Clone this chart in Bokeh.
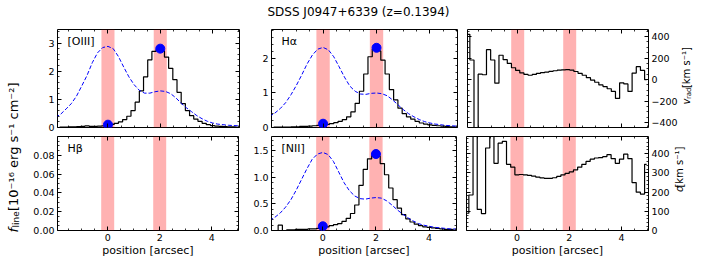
from math import pi
import numpy as np
from bokeh.plotting import figure
from bokeh.models import (Range1d, LinearAxis, FixedTicker, BoxAnnotation, PrintfTickFormatter,
                          CustomLabelingPolicy)
from bokeh.layouts import row, column
from bokeh.embed import file_html
from bokeh.resources import INLINE
from bokeh.core.properties import value

FONT = "DejaVu Sans"

# ---------------- data ----------------
title_text = "SDSS J0947+6339 (z=0.1394)"

pos = [-1.92, -1.76, -1.60, -1.44, -1.28, -1.12, -0.96, -0.80, -0.64, -0.48, -0.32, -0.16,
       0.00, 0.16, 0.32, 0.48, 0.64, 0.80, 0.96, 1.12, 1.28, 1.44, 1.60, 1.76, 1.92, 2.08,
       2.24, 2.40, 2.56, 2.72, 2.88, 3.04, 3.20, 3.36, 3.52, 3.68, 3.84, 4.00, 4.16, 4.32,
       4.48, 4.64, 4.80, 4.96]

oiii_flux = [0.00, 0.01, 0.01, 0.02, 0.02, 0.03, 0.04, 0.06, 0.04, 0.04, 0.05, 0.06,
             0.08, 0.11, 0.15, 0.20, 0.28, 0.40, 0.60, 0.90, 1.30, 1.80, 2.40, 2.70, 2.76, 2.72,
             2.50, 2.10, 1.70, 1.25, 0.85, 0.60, 0.42, 0.30, 0.22, 0.15, 0.10, 0.07, 0.05, 0.04,
             0.03, 0.02, 0.02, 0.01]

ha_flux = [0.00, 0.01, 0.01, 0.01, 0.01, 0.02, 0.02, 0.03, 0.03, 0.04, 0.05, 0.06,
           0.07, 0.09, 0.11, 0.14, 0.18, 0.23, 0.31, 0.45, 0.70, 1.05, 1.55, 2.05, 2.27, 2.22,
           1.95, 1.55, 1.10, 0.80, 0.56, 0.40, 0.31, 0.24, 0.18, 0.13, 0.10, 0.075, 0.06, 0.05,
           0.04, 0.03, 0.02, 0.02]

nii_flux = [0.00, 0.00, 0.10, 0.00, 0.01, 0.01, 0.02, 0.02, 0.02, 0.03, 0.03, 0.04,
            0.05, 0.07, 0.09, 0.11, 0.13, 0.17, 0.23, 0.32, 0.48, 0.85, 1.15, 1.35, 1.41, 1.40,
            1.26, 1.05, 0.80, 0.58, 0.42, 0.30, 0.22, 0.16, 0.12, 0.09, 0.07, 0.06, 0.05, 0.04,
            0.03, 0.02, 0.02, 0.01]

v_rad = [420, 182, -600, 50, 45, 278, 182, -33, 226, 185, 150, 110,
         85, 62, 48, 40, 48, 58, 65, 70, 76, 82, 87, 91, 92, 88,
         75, 58, 40, 18, -5, -25, -50, -65, -85, -110, -175, -30, -40, -110,
         60, 120, 85, 0]

sigma = [90, 185, 600, 110, 88, 430, 600, 350, 455, 465, 345, 330,
         290, 292, 290, 287, 283, 278, 274, 272, 272, 275, 282, 290, 298, 306,
         316, 330, 345, 360, 372, 378, 380, 385, 395, 375, 350, 372, 398, 375,
         250, 200, 190, 345]

mpos = [-2.0, -1.8, -1.6, -1.4, -1.2, -1.0, -0.8, -0.6, -0.4, -0.2, 0.0, 0.2, 0.4, 0.6,
        0.8, 1.0, 1.2, 1.4, 1.6, 1.8, 2.0, 2.2, 2.4, 2.6, 2.8, 3.0, 3.2, 3.4, 3.6, 3.8,
        4.0, 4.2, 4.4, 4.6, 4.8, 5.0]

oiii_model = [0.36, 0.48, 0.66, 0.85, 1.12, 1.48, 1.85, 2.30, 2.65, 2.84, 2.88, 2.80, 2.52, 2.15,
              1.80, 1.52, 1.32, 1.22, 1.22, 1.27, 1.30, 1.28, 1.20, 1.05, 0.86, 0.70, 0.56, 0.42,
              0.31, 0.22, 0.16, 0.12, 0.10, 0.08, 0.07, 0.06]
ha_model = [0.32, 0.42, 0.55, 0.72, 0.95, 1.22, 1.52, 1.84, 2.10, 2.27, 2.32, 2.25, 2.05, 1.76,
            1.46, 1.20, 1.05, 0.97, 0.96, 0.99, 1.00, 0.98, 0.92, 0.80, 0.66, 0.52, 0.40, 0.31,
            0.23, 0.17, 0.13, 0.10, 0.08, 0.06, 0.05, 0.04]
nii_model = [0.19, 0.25, 0.33, 0.44, 0.58, 0.76, 0.96, 1.16, 1.34, 1.44, 1.47, 1.43, 1.30, 1.10,
             0.90, 0.75, 0.65, 0.60, 0.59, 0.61, 0.62, 0.61, 0.56, 0.48, 0.39, 0.31, 0.24, 0.18,
             0.13, 0.10, 0.08, 0.06, 0.05, 0.04, 0.03, 0.03]

knot_pos = [0.0, 2.0]
oiii_knot = [0.10, 2.80]
ha_knot = [0.11, 2.31]
nii_knot = [0.08, 1.44]

band_lo = [-0.25, 1.75]
band_hi = [0.25, 2.25]

x_ticks = [0, 2, 4]
x_minor = [-1.5, -1.0, -0.5, 0.5, 1.0, 1.5, 2.5, 3.0, 3.5, 4.5, 5.0]
X_RANGE = (-1.93, 5.03)

NO_LABELS = "for (const i of indices) { indices.unset(i) } return indices"


# ---------------- helpers ----------------
def add_axis(p, loc, ticks, minor, labels=True, fmt=None, overrides=None, standoff=3,
             axis_label=None):
    ax = LinearAxis(ticker=FixedTicker(ticks=ticks, minor_ticks=minor))
    ax.axis_line_color = None
    ax.major_tick_in = 4
    ax.major_tick_out = 0
    ax.minor_tick_in = 2
    ax.minor_tick_out = 0
    ax.major_tick_line_color = "black"
    ax.minor_tick_line_color = "black"
    ax.major_tick_line_width = 1
    ax.minor_tick_line_width = 0.8
    ax.axis_label_standoff = 0
    ax.major_label_text_font = FONT
    ax.major_label_text_color = "black"
    if labels:
        ax.major_label_text_font_size = "9.5px"
        ax.major_label_standoff = standoff
        if fmt:
            ax.formatter = PrintfTickFormatter(format=fmt)
        if overrides:
            ax.major_label_overrides = overrides
    else:
        ax.major_label_text_font_size = "1px"
        ax.major_label_standoff = 0
        ax.major_label_policy = CustomLabelingPolicy(code=NO_LABELS)
    if axis_label:
        ax.axis_label = axis_label
        ax.axis_label_text_font = FONT
        ax.axis_label_text_font_size = "11px"
        ax.axis_label_text_font_style = "normal"
        ax.axis_label_text_color = "black"
    p.add_layout(ax, loc)
    return ax


def panel(w, h, yr, bl, br, bt, bb):
    p = figure(width=w, height=h, x_range=Range1d(*X_RANGE), y_range=Range1d(*yr),
               output_backend="svg", toolbar_location=None,
               x_axis_location=None, y_axis_location=None,
               min_border_left=bl, min_border_right=br, min_border_top=bt, min_border_bottom=bb)
    p.grid.visible = False
    p.outline_line_color = "black"
    p.outline_line_width = 1
    p.outline_line_alpha = 1
    for lo, hi in zip(band_lo, band_hi):
        p.add_layout(BoxAnnotation(left=lo, right=hi, fill_color="red", fill_alpha=0.3,
                                   line_color=None, level="underlay"))
    return p


def text_fig(w, h):
    p = figure(width=w, height=h, x_range=Range1d(0, w), y_range=Range1d(0, h),
               output_backend="svg", toolbar_location=None,
               x_axis_location=None, y_axis_location=None, min_border=0)
    p.grid.visible = False
    p.outline_line_color = None
    return p


def vtext(p, x, y, txt, size, style="normal"):
    # vertical text reading bottom-to-top, starting at y, centred on x
    p.text(x=[x], y=[y], text=[txt], angle=pi / 2, text_align="left", text_baseline="middle",
           text_font=value(FONT), text_font_size=size, text_font_style=style, text_color="black")


def panel_label(p, txt, yr):
    p.text(x=[X_RANGE[0]], y=[yr[1]], text=[txt], x_offset=10, y_offset=12,
           text_align="left", text_baseline="middle", text_font=value(FONT),
           text_font_size="11px", text_color="black")


def flux_panel(p, name, yr, flux, model, knots):
    if flux is not None:
        p.step(pos, flux, mode="center", line_color="black", line_width=1.2)
    if model is not None:
        p.line(mpos, model, line_color="blue", line_dash="4 2", line_width=1)
    if knots is not None:
        p.scatter(knot_pos, knots, size=9, color="blue")
    panel_label(p, name, yr)


TOP_H, BOT_H = 107, 127

# ---------------- top row ----------------
yr_a = (0, 3.48)
A = panel(214, TOP_H, yr_a, 28, 1, 0, 5)
flux_panel(A, "[OIII]", yr_a, oiii_flux, oiii_model, oiii_knot)
add_axis(A, "left", [0, 1, 2, 3], list(np.arange(0, 3.5, 0.2)))
add_axis(A, "right", [0, 1, 2, 3], list(np.arange(0, 3.5, 0.2)), labels=False)
add_axis(A, "below", x_ticks, x_minor, labels=False)
add_axis(A, "above", x_ticks, x_minor, labels=False)

yr_b = (0, 2.84)
B = panel(218, TOP_H, yr_b, 28, 3, 0, 5)
flux_panel(B, "Hα", yr_b, ha_flux, ha_model, ha_knot)
add_axis(B, "left", [0, 1, 2], list(np.arange(0, 2.9, 0.2)))
add_axis(B, "right", [0, 1, 2], list(np.arange(0, 2.9, 0.2)), labels=False)
add_axis(B, "below", x_ticks, x_minor, labels=False)
add_axis(B, "above", x_ticks, x_minor, labels=False)

yr_c = (-445, 465)
C = panel(219, TOP_H, yr_c, 3, 30, 0, 5)
C.step(pos, v_rad, mode="center", line_color="black", line_width=1.2)
vt = [-400, -200, 0, 200, 400]
vm = list(range(-450, 451, 50))
add_axis(C, "right", vt, vm, overrides={-400: "\u2212400", -200: "\u2212200"})
add_axis(C, "left", vt, vm, labels=False)
add_axis(C, "below", x_ticks, x_minor, labels=False)
add_axis(C, "above", x_ticks, x_minor, labels=False)

RT = text_fig(34, TOP_H)
vtext(RT, 6, 25, "v", "10px", "italic")
vtext(RT, 8.5, 31, "rad", "7px")
vtext(RT, 6, 43, " [km s\u207b\u00b9]", "10px")

# ---------------- bottom row ----------------
yr_d = (0, 0.1)
D = panel(214, BOT_H, yr_d, 28, 1, 0, 26)
flux_panel(D, "Hβ", yr_d, None, None, None)
add_axis(D, "left", [0, 0.02, 0.04, 0.06, 0.08], list(np.arange(0, 0.1001, 0.005)), fmt="%.2f")
add_axis(D, "right", [0, 0.02, 0.04, 0.06, 0.08], list(np.arange(0, 0.1001, 0.005)), labels=False)
add_axis(D, "below", x_ticks, x_minor, standoff=3, axis_label="position [arcsec]")
add_axis(D, "above", x_ticks, x_minor, labels=False)

yr_e = (0, 1.77)
E = panel(218, BOT_H, yr_e, 28, 3, 0, 26)
flux_panel(E, "[NII]", yr_e, nii_flux, nii_model, nii_knot)
add_axis(E, "left", [0, 0.5, 1.0, 1.5], list(np.arange(0, 1.8, 0.1)), fmt="%.1f")
add_axis(E, "right", [0, 0.5, 1.0, 1.5], list(np.arange(0, 1.8, 0.1)), labels=False)
add_axis(E, "below", x_ticks, x_minor, standoff=3, axis_label="position [arcsec]")
add_axis(E, "above", x_ticks, x_minor, labels=False)

yr_f = (0, 490)
F = panel(211, BOT_H, yr_f, 3, 22, 0, 26)
F.step(pos, sigma, mode="center", line_color="black", line_width=1.2)
st = [0, 100, 200, 300, 400]
sm = list(range(0, 481, 20))
add_axis(F, "right", st, sm)
add_axis(F, "left", st, sm, labels=False)
add_axis(F, "below", x_ticks, x_minor, standoff=3, axis_label="position [arcsec]")
add_axis(F, "above", x_ticks, x_minor, labels=False)

RB = text_fig(42, BOT_H)
vtext(RB, 6.5, 52, "σ", "10px", "italic")
vtext(RB, 6.5, 58, " [km s\u207b\u00b9]", "10px")

# ---------------- title & shared y label ----------------
TF = text_fig(685, 25)
TF.text(x=[329], y=[14], text=[title_text], text_align="center", text_baseline="middle",
        text_font=value(FONT), text_font_size="12px", text_color="black")

LF = text_fig(29, 259)
vtext(LF, 12.5, 27, "f", "13px", "italic")
vtext(LF, 15.5, 32, "line", "9px")
vtext(LF, 12.5, 48.5, " [10\u207b\u00b9\u2076 erg s\u207b\u00b9 cm\u207b\u00b2]", "13px")

top = row(A, B, C, RT)
bot = row(D, E, F, RB)
layout = row(LF, column(TF, top, bot))

open("out.html", "w").write(file_html(layout, INLINE))
